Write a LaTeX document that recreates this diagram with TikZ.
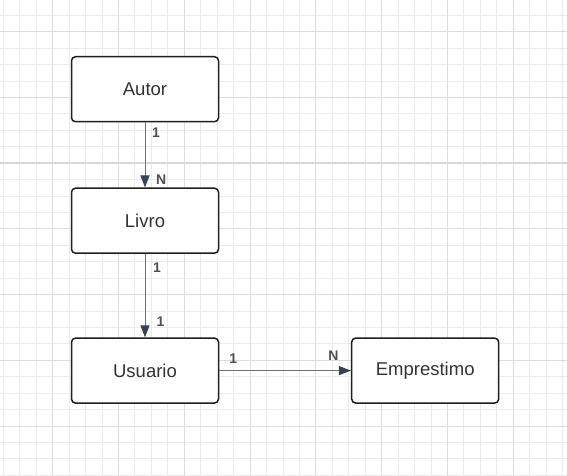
\documentclass[tikz,border=0pt]{standalone}
\usepackage{fontspec}
\setmainfont{Liberation Sans}
\usetikzlibrary{positioning,arrows.meta}
\definecolor{gridminor}{HTML}{EBEBEB}
\definecolor{gridmajor}{HTML}{DDDDDD}
\definecolor{seam}{HTML}{D8D8D8}
\definecolor{boxtext}{HTML}{333333}
\definecolor{shaft}{HTML}{6E717A}
\definecolor{tipdark}{HTML}{3C414C}
\definecolor{cardtext}{HTML}{505050}
\tikzset{entity/.style={rectangle,rounded corners=4pt,draw=black!88,line width=1.5pt,fill=white,minimum width=147pt,minimum height=65pt,inner sep=0pt,text=boxtext,font=\fontsize{18.5}{22}\selectfont},
rel/.style={draw=shaft,line width=1pt,-{Triangle[width=9pt,length=12pt,color=tipdark]}},
card/.style={font=\fontsize{14}{16}\selectfont\bfseries,text=cardtext,inner sep=0pt},}

\begin{document}
\begin{tikzpicture}
    \useasboundingbox (0,0) rectangle (567pt,-476pt);
    % grid
    \foreach \i in {0,...,34} \draw[gridminor,line width=1pt] (3.35pt+\i*16.45pt,0) -- ++(0,-476pt);
    \foreach \j in {0,...,28} \draw[gridminor,line width=1pt] (0,-15.3pt-\j*16.43pt) -- ++(567pt,0);
    \foreach \i in {0,...,7} \draw[gridmajor,line width=1pt] (52.7pt+\i*65.8pt,0) -- ++(0,-476pt);
    \foreach \j in {0,...,6} \draw[gridmajor,line width=1pt] (0,-31.7pt-\j*65.72pt) -- ++(567pt,0);
    \draw[seam,line width=2pt] (0,-163pt) -- (567pt,-163pt);

    \node[entity] (autor) at (145pt,-89.2pt) {Autor};
    \node[entity] (livro) [below = 65pt of autor] {Livro};
    \node[entity] (usuario) [below = 83.4pt of livro] {Usuario};
    \node[entity] (emprestimo) [right = 131.7pt of usuario] {Emprestimo};

    \path[rel]
    (autor) edge node[card,pos=0.15,anchor=west,xshift=6.5pt] {1} node[card,pos=0.88,anchor=west,xshift=10.5pt] {N} (livro)
    (livro) edge node[card,pos=0.17,anchor=west,xshift=7.5pt] {1} node[card,pos=0.81,anchor=west,xshift=11pt] {1} (usuario)
    (usuario) edge node[card,pos=0.106,anchor=south,yshift=7pt] {1} node[card,pos=0.867,anchor=south,yshift=10pt] {N} (emprestimo);
\end{tikzpicture}
\end{document}
